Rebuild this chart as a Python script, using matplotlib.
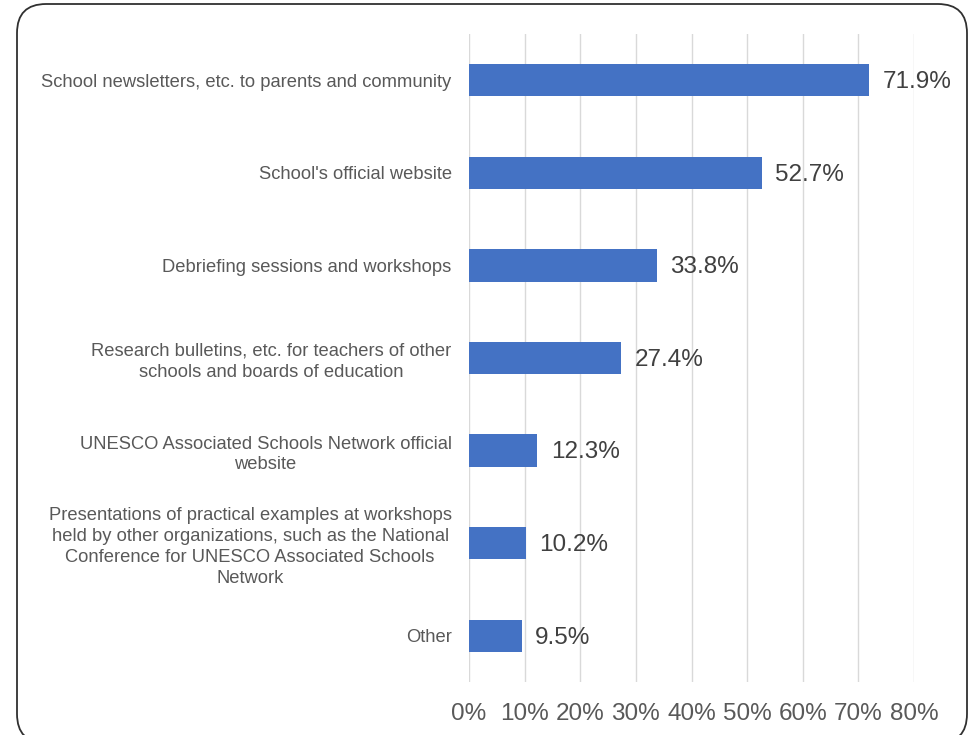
import matplotlib.pyplot as plt
from matplotlib.patches import FancyBboxPatch

categories = [
    'School newsletters, etc. to parents and community',
    "School's official website",
    'Debriefing sessions and workshops',
    'Research bulletins, etc. for teachers of other\nschools and boards of education',
    'UNESCO Associated Schools Network official\nwebsite',
    'Presentations of practical examples at workshops\nheld by other organizations, such as the National\nConference for UNESCO Associated Schools\nNetwork',
    'Other',
]
values = [71.9, 52.7, 33.8, 27.4, 12.3, 10.2, 9.5]
xticks = [0, 10, 20, 30, 40, 50, 60, 70, 80]

plt.rcParams['font.family'] = ['Liberation Sans', 'DejaVu Sans']

W, H = 970, 735
fig = plt.figure(figsize=(W / 100, H / 100), dpi=100)
ax = fig.add_axes([469 / W, 1 - 682 / H, (914 - 469) / W, (682 - 34) / H])

ypos = list(range(len(categories)))[::-1]
ax.barh(ypos, values, height=0.35, color='#4472C4', zorder=3)
for y, v in zip(ypos, values):
    ax.text(v + 2.4, y - 0.02, f'{v}%', va='center', ha='left', fontsize=17.5, color='#404040')

ax.set_xlim(0, 80)
ax.set_ylim(-0.5, len(categories) - 0.5)
ax.set_xticks(xticks)
ax.set_xticklabels([f'{t}%' for t in xticks], fontsize=17.5, color='#595959')
ax.set_yticks(ypos)
ax.set_yticklabels(categories, fontsize=13.2, color='#595959', linespacing=1.3)
for lbl in ax.get_yticklabels():
    lbl.set_horizontalalignment('right')
    lbl.set_multialignment('center')
ax.tick_params(axis='y', length=0, pad=12.5)
ax.tick_params(axis='x', length=0, pad=15)
ax.grid(axis='x', color='#D9D9D9', linewidth=1.0, zorder=0)
for s in ax.spines.values():
    s.set_visible(False)

# rounded outer frame
frame = FancyBboxPatch((17 / W, -8 / H), (967 - 17) / W, (H - 4 + 8) / H,
                       boxstyle='round,pad=0,rounding_size=0.03',
                       transform=fig.transFigure, fill=False,
                       edgecolor='#303030', linewidth=1.3, mutation_aspect=W / H)
fig.patches.append(frame)

fig.savefig('out.png', dpi=100)
